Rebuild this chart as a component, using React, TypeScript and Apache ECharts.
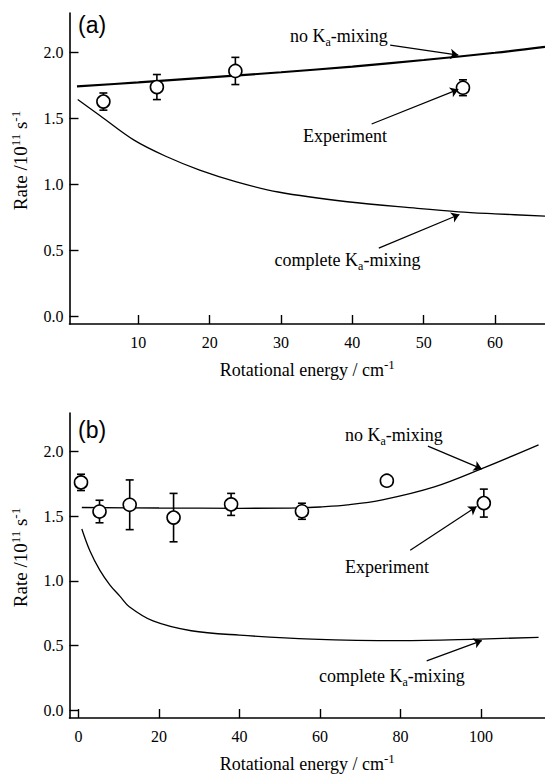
import React, { useEffect, useRef } from "react";
import * as echarts from "echarts";

const SERIF = "Liberation Serif";
const SANS = "Liberation Sans";

// Panel (a)
const aNoMixing: number[][] = [[1.4, 1.74], [10, 1.77], [20, 1.808], [30, 1.847], [40, 1.89], [50, 1.94], [60, 1.995], [67, 2.04]];
const aComplete: number[][] = [[1.5, 1.64], [4.6, 1.52], [9.4, 1.333], [14, 1.207], [18.6, 1.106], [23.75, 1.017], [29.6, 0.94], [39.3, 0.866], [49.1, 0.816], [54.9, 0.79], [60, 0.775], [67, 0.757]];
const aExpX = [5.1, 12.6, 23.6, 55.5];
const aExpY = [1.625, 1.735, 1.857, 1.73];
const aExpErr = [0.065, 0.095, 0.103, 0.06];
const aXTicks = [10, 20, 30, 40, 50, 60];

// Panel (b)
const bNoMixing: number[][] = [[0.8, 1.566], [20, 1.562], [40, 1.56], [55, 1.563], [60, 1.57], [66.8, 1.586], [75.5, 1.625], [88.4, 1.725], [100.5, 1.87], [114.3, 2.05]];
const bComplete: number[][] = [[0.8, 1.4], [2.8, 1.232], [5.3, 1.08], [7.8, 0.967], [10.3, 0.88], [12.6, 0.8], [18.5, 0.69], [28, 0.614], [40, 0.58], [58, 0.55], [79.8, 0.538], [99.7, 0.55], [114.3, 0.563]];
const bExpX = [0.6, 5.2, 12.7, 23.6, 37.9, 55.5, 76.6, 100.7];
const bExpY = [1.76, 1.535, 1.587, 1.488, 1.59, 1.537, 1.773, 1.6];
const bExpErr = [0.063, 0.087, 0.192, 0.187, 0.085, 0.062, 0, 0.108];
const bXTicks = [0, 20, 40, 60, 80, 100];

const yTicks = [0, 0.5, 1.0, 1.5, 2.0];

// arrow annotations in data coordinates: [from, to]
const aArrowNo = [[45.3, 2.053], [54.85, 1.977]];
const aArrowExp = [[42.7, 1.455], [54.85, 1.717]];
const aArrowComp = [[43.7, 0.515], [55.0, 0.77]];
const bArrowNo = [[86.8, 2.04], [100.2, 1.864]];
const bArrowExp = [[82.4, 1.235], [98.9, 1.573]];
const bArrowComp = [[86.5, 0.381], [100.2, 0.538]];

function arrow(pts: number[][]) {
  return {
    silent: true,
    symbol: ["none", "arrow"],
    symbolSize: 8,
    label: { show: false },
    lineStyle: { color: "#000", width: 1.2, type: "solid" },
    emphasis: { disabled: true },
    data: [[{ coord: pts[0] }, { coord: pts[1] }]],
  };
}

const supRich = { sup: { fontFamily: SERIF, fontSize: 13, lineHeight: 13, verticalAlign: "top", color: "#000" } };

function xAxisCfg(idx: number, min: number, max: number, ticks: number[]) {
  return {
    type: "value",
    gridIndex: idx,
    min,
    max,
    name: "Rotational energy / cm{sup|-1}",
    nameLocation: "middle",
    nameGap: 34,
    nameTextStyle: { fontFamily: SERIF, fontSize: 18, color: "#000", lineHeight: 24, rich: supRich },
    axisLine: { show: true, onZero: false, lineStyle: { color: "#000", width: 1.6 } },
    axisTick: { show: true, inside: true, length: 9, customValues: ticks, lineStyle: { color: "#000", width: 1.4 } },
    axisLabel: { show: true, margin: 10, customValues: ticks, fontFamily: SERIF, fontSize: 16, color: "#000", formatter: (v: number) => String(v) },
    splitLine: { show: false },
  };
}

function yAxisCfg(idx: number) {
  return {
    type: "value",
    gridIndex: idx,
    min: -0.06,
    max: 2.296,
    name: "Rate /10{sup|11} s{sup|-1}",
    nameLocation: "middle",
    nameRotate: 90,
    nameGap: 35,
    nameTextStyle: { fontFamily: SERIF, fontSize: 19, color: "#000", lineHeight: 24, padding: [0, 0, 0, 16], rich: supRich },
    axisLine: { show: true, onZero: false, lineStyle: { color: "#000", width: 1.6 } },
    axisTick: { show: true, inside: true, length: 9, customValues: yTicks, lineStyle: { color: "#000", width: 1.4 } },
    axisLabel: { show: true, margin: 6, customValues: yTicks, fontFamily: SERIF, fontSize: 16, color: "#000", formatter: (v: number) => v.toFixed(1) },
    splitLine: { show: false },
  };
}

function errorSeries(idx: number, xs: number[], ys: number[], es: number[]) {
  return {
    type: "custom",
    xAxisIndex: idx,
    yAxisIndex: idx,
    z: 2,
    silent: true,
    encode: { x: 0, y: 1 },
    data: xs.map((x, i) => [x, ys[i], es[i]]),
    renderItem: (params: any, api: any) => {
      const x = api.value(0);
      const y = api.value(1);
      const e = api.value(2);
      if (!e) return null;
      const top = api.coord([x, y + e]);
      const bot = api.coord([x, y - e]);
      const w = 4;
      const st = { stroke: "#000", lineWidth: 1.6 };
      return {
        type: "group",
        children: [
          { type: "line", shape: { x1: top[0], y1: top[1], x2: bot[0], y2: bot[1] }, style: st },
          { type: "line", shape: { x1: top[0] - w, y1: top[1], x2: top[0] + w, y2: top[1] }, style: st },
          { type: "line", shape: { x1: bot[0] - w, y1: bot[1], x2: bot[0] + w, y2: bot[1] }, style: st },
        ],
      };
    },
  };
}

function lineSeries(idx: number, data: number[][], width: number, ml: any) {
  return {
    type: "line",
    xAxisIndex: idx,
    yAxisIndex: idx,
    data,
    smooth: 0.35,
    showSymbol: false,
    symbol: "none",
    silent: true,
    z: 1,
    lineStyle: { color: "#000", width },
    markLine: ml,
  };
}

function scatterSeries(idx: number, xs: number[], ys: number[], ml: any) {
  return {
    type: "scatter",
    xAxisIndex: idx,
    yAxisIndex: idx,
    data: xs.map((x, i) => [x, ys[i]]),
    symbol: "circle",
    symbolSize: 13,
    z: 3,
    silent: true,
    itemStyle: { color: "#fff", borderColor: "#000", borderWidth: 1.6, opacity: 1 },
    markLine: ml,
  };
}

const subRich = {
  sub: { fontFamily: SERIF, fontSize: 12, lineHeight: 12, verticalAlign: "bottom", fill: "#000" },
};

function annot(x: number, y: number, text: string) {
  return {
    type: "text",
    x,
    y,
    silent: true,
    style: {
      text,
      fontFamily: SERIF,
      fontSize: 18,
      lineHeight: 24,
      fill: "#000",
      verticalAlign: "top",
      align: "left",
      rich: subRich,
    },
  };
}

function panelLabel(x: number, y: number, text: string) {
  return {
    type: "text",
    x,
    y,
    silent: true,
    style: { text, fontFamily: SANS, fontSize: 23, fill: "#000", verticalAlign: "top", align: "left" },
  };
}

export default function App() {
  const ref = useRef<HTMLDivElement>(null);
  useEffect(() => {
    document.body.style.margin = "0";
    if (!ref.current) return;
    const chart = echarts.init(ref.current, undefined, { renderer: "svg" });
    chart.setOption({
      animation: false,
      backgroundColor: "#fff",
      textStyle: { fontFamily: SERIF },
      grid: [
        { left: 69.5, right: 0, top: 13, height: 311 },
        { left: 69.5, right: 0, top: 413, height: 311 },
      ],
      xAxis: [xAxisCfg(0, 0.35, 67, aXTicks), xAxisCfg(1, -2.26, 115.9, bXTicks)],
      yAxis: [yAxisCfg(0), yAxisCfg(1)],
      series: [
        lineSeries(0, aNoMixing, 2.2, arrow(aArrowNo)),
        lineSeries(0, aComplete, 1.3, arrow(aArrowComp)),
        errorSeries(0, aExpX, aExpY, aExpErr),
        scatterSeries(0, aExpX, aExpY, arrow(aArrowExp)),
        lineSeries(1, bNoMixing, 1.3, arrow(bArrowNo)),
        lineSeries(1, bComplete, 1.3, arrow(bArrowComp)),
        errorSeries(1, bExpX, bExpY, bExpErr),
        scatterSeries(1, bExpX, bExpY, arrow(bArrowExp)),
      ],
      graphic: [
        panelLabel(78, 13, "(a)"),
        panelLabel(78, 418, "(b)"),
        annot(290, 23.6, "no K{sub|a}-mixing"),
        annot(303, 123.6, "Experiment"),
        annot(274.6, 247.6, "complete K{sub|a}-mixing"),
        annot(345, 423, "no K{sub|a}-mixing"),
        annot(345, 554.6, "Experiment"),
        annot(319, 664, "complete K{sub|a}-mixing"),
      ],
    });
    return () => chart.dispose();
  }, []);
  return <div ref={ref} style={{ width: 545, height: 777 }} />;
}
